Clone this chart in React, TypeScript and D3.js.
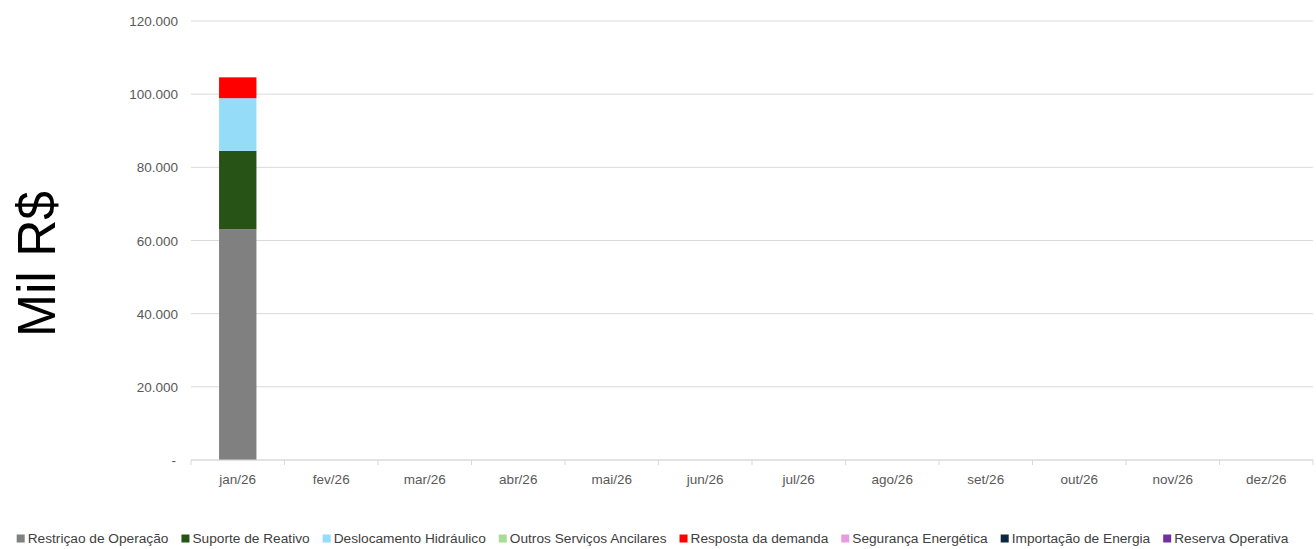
import React, { useEffect, useRef } from "react";
import * as d3 from "d3";

const months = ["jan/26", "fev/26", "mar/26", "abr/26", "mai/26", "jun/26", "jul/26", "ago/26", "set/26", "out/26", "nov/26", "dez/26"];
const seriesNames = ["Restriçao de Operação", "Suporte de Reativo", "Deslocamento Hidráulico", "Outros Serviços Ancilares", "Resposta da demanda", "Segurança Energética", "Importação de Energia", "Reserva Operativa"];
const seriesColors = ["#808080", "#275317", "#95DCF8", "#A9DC97", "#FF0000", "#E89CE0", "#0E2841", "#7030A0"];
const restricao = [63100, null, null, null, null, null, null, null, null, null, null, null];
const suporte = [21400, null, null, null, null, null, null, null, null, null, null, null];
const deslocamento = [14400, null, null, null, null, null, null, null, null, null, null, null];
const outros = [0, null, null, null, null, null, null, null, null, null, null, null];
const resposta = [5700, null, null, null, null, null, null, null, null, null, null, null];
const seguranca = [0, null, null, null, null, null, null, null, null, null, null, null];
const importacao = [0, null, null, null, null, null, null, null, null, null, null, null];
const reserva = [0, null, null, null, null, null, null, null, null, null, null, null];
const yTicks = [0, 20000, 40000, 60000, 80000, 100000, 120000];

const W = 1316, H = 549;
const FONT = "'Liberation Sans Narrow', 'Arial Narrow', 'Liberation Sans', Arial, sans-serif";

export default function App() {
  const ref = useRef<SVGSVGElement>(null);
  useEffect(() => {
    const svg = d3.select(ref.current);
    svg.selectAll("*").remove();
    const margin = { left: 191, right: 3, top: 21, bottom: 89 };
    const x = d3.scaleBand().domain(months).range([margin.left, W - margin.right]).paddingInner(0.6).paddingOuter(0.3);
    const xb = d3.scaleBand().domain(months).range([margin.left, W - margin.right]);
    const y = d3.scaleLinear().domain([0, 120000]).range([H - margin.bottom, margin.top]);
    const fmt = (v: number) => v === 0 ? "-" : d3.format(",")(v).replace(/,/g, ".");

    // gridlines
    svg.append("g").selectAll("line").data(yTicks).join("line")
      .attr("x1", margin.left).attr("x2", W - margin.right)
      .attr("y1", d => y(d)).attr("y2", d => y(d))
      .attr("stroke", "#D9D9D9").attr("stroke-width", 1);
    // y labels
    svg.append("g").selectAll("text").data(yTicks).join("text")
      .attr("x", d => d === 0 ? 176 : 178).attr("y", d => y(d) + 5)
      .attr("text-anchor", "end").attr("font-size", 13.5).attr("font-family", "'Liberation Sans', Arial, sans-serif")
      .attr("fill", "#595959").text(d => fmt(d));

    // stacked bars
    const all = [restricao, suporte, deslocamento, outros, resposta, seguranca, importacao, reserva];
    const rows = months.map((m, i) => {
      const r: any = { m };
      seriesNames.forEach((s, k) => { r[s] = all[k][i] ?? 0; });
      return r;
    });
    const stack = d3.stack().keys(seriesNames)(rows as any);
    svg.append("g").selectAll("g").data(stack).join("g")
      .attr("fill", (_d, i) => seriesColors[i])
      .selectAll("rect").data(d => d).join("rect")
      .attr("x", (d: any) => x(d.data.m)!)
      .attr("width", x.bandwidth())
      .attr("y", d => y(d[1]))
      .attr("height", d => Math.max(0, y(d[0]) - y(d[1])));

    // x axis
    const ax = svg.append("g");
    ax.append("line").attr("x1", margin.left).attr("x2", W - margin.right)
      .attr("y1", y(0)).attr("y2", y(0)).attr("stroke", "#D9D9D9");
    const bounds = months.map(m => xb(m)!).concat([W - margin.right]);
    ax.selectAll("line.t").data(bounds).join("line").attr("class", "t")
      .attr("x1", d => d).attr("x2", d => d).attr("y1", y(0)).attr("y2", y(0) + 5)
      .attr("stroke", "#D9D9D9");
    ax.selectAll("text").data(months).join("text")
      .attr("x", d => xb(d)! + xb.bandwidth() / 2).attr("y", y(0) + 24)
      .attr("text-anchor", "middle").attr("font-size", 13.5).attr("font-family", "'Liberation Sans', Arial, sans-serif")
      .attr("fill", "#595959").text(d => d);

    // y title
    svg.append("text").attr("transform", "translate(55,264) rotate(-90)")
      .attr("text-anchor", "middle").attr("font-size", 54).attr("font-family", "'Liberation Sans', Arial, sans-serif")
      .attr("textLength", 146).attr("lengthAdjust", "spacingAndGlyphs")
      .attr("fill", "#000").text("Mil R$");

    // legend
    const lg = svg.append("g");
    const items = lg.selectAll("g").data(seriesNames).join("g");
    items.append("rect").attr("width", 8).attr("height", 8).attr("y", -8.5).attr("fill", (_d, i) => seriesColors[i]);
    const texts = items.append("text").attr("x", 11).attr("font-size", 13.7).attr("font-family", FONT)
      .attr("fill", "#404040").text(d => d);
    const widths: number[] = [];
    texts.each(function () { widths.push((this as SVGTextElement).getComputedTextLength()); });
    const gap = 13;
    const total = widths.reduce((a, w) => a + 11 + w, 0) + gap * (widths.length - 1);
    let cx = 17 + (1271 - total) / 2;
    const pos: number[] = [];
    widths.forEach(w => { pos.push(cx); cx += 11 + w + gap; });
    items.attr("transform", (_d, i) => `translate(${pos[i]},${543})`);
  }, []);
  return <svg ref={ref} width={W} height={H} style={{ position: "absolute", left: 0, top: 0, background: "#fff" }} />;
}
